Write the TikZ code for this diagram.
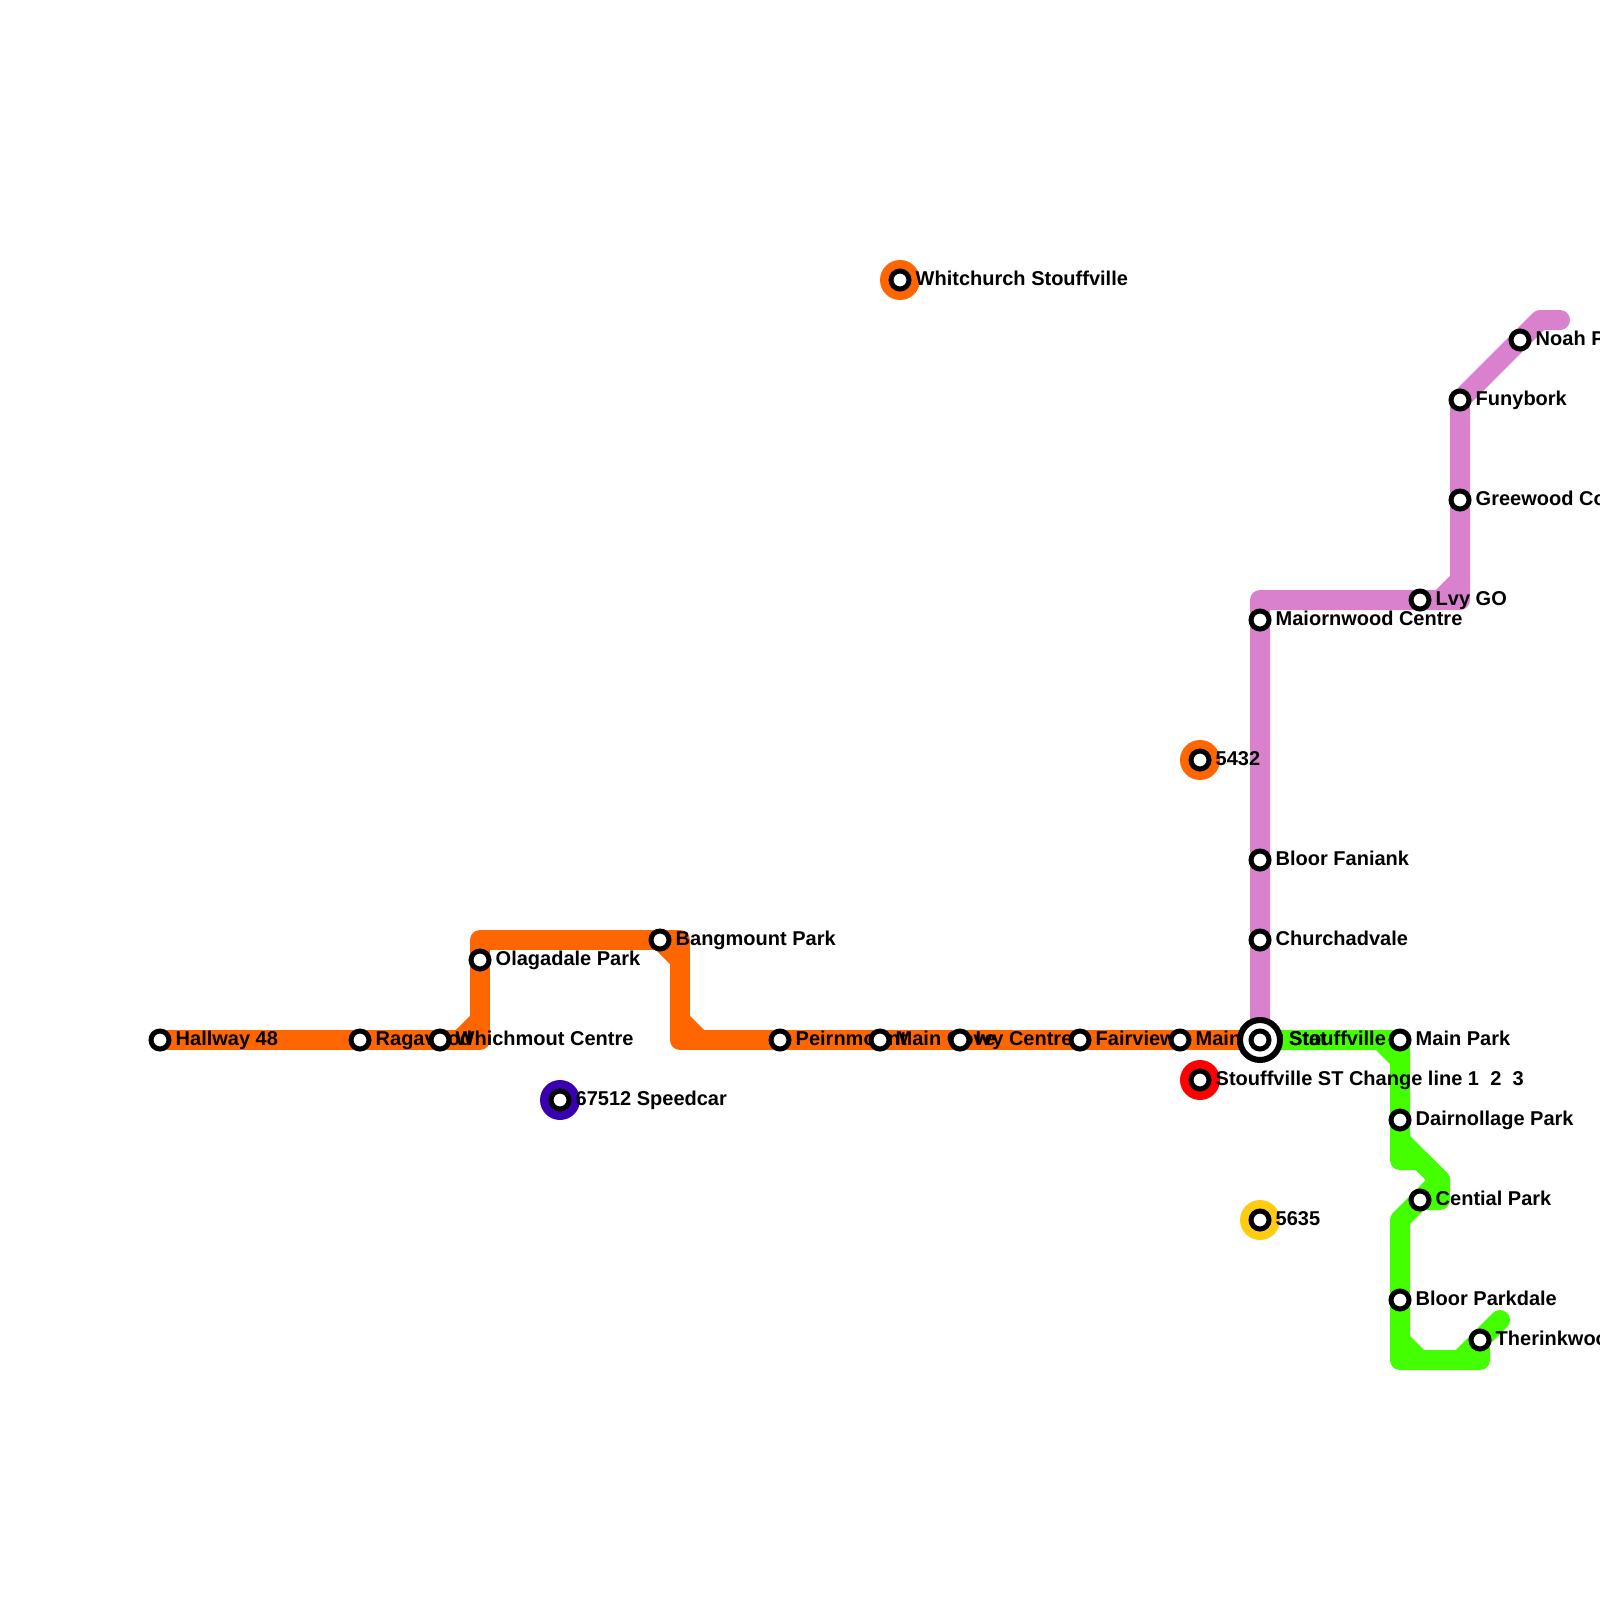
\documentclass[tikz,border=0pt]{standalone}
\usepackage{fontspec}
\setmainfont{Liberation Sans}
\definecolor{orangeline}{HTML}{FF6600}
\definecolor{purpleline}{HTML}{DA81CE}
\definecolor{greenline}{HTML}{44FF00}
\definecolor{blueline}{HTML}{3A00B0}
\definecolor{redline}{HTML}{FF0000}
\definecolor{yellowline}{HTML}{FFCC11}
\pgfdeclarelayer{lines}
\pgfsetlayers{lines,main}
\tikzset{
  stn/.style={circle,draw=black,fill=white,line width=5pt,minimum size=18pt,inner sep=0pt},
  lbl/.style={anchor=base west,inner sep=0pt,font=\fontsize{20}{22}\selectfont\bfseries},
  rail/.style={line width=20pt,line join=round,line cap=round},
  halo/.style={circle,inner sep=0pt,minimum size=40pt},
  pt/.style={inner sep=0pt,minimum size=0pt}
}
\newcommand{\stlabel}[4]{\node[lbl] (#1) at (#2+15.5,#3+5) {#4};}
\begin{document}
\begin{tikzpicture}[x=1pt,y=-1pt]
\useasboundingbox (0,0) rectangle (1600,1600);
% labels (under the station rings)
\stlabel{la}{160}{1040}{Hallway 48}
\stlabel{lb}{360}{1040}{Ragavood}
\stlabel{lc}{440}{1040}{Whichmout Centre}
\stlabel{ld}{480}{960}{Olagadale Park}
\stlabel{le}{660}{940}{Bangmount Park}
\stlabel{lf}{780}{1040}{Peirnmount}
\stlabel{lg}{880}{1040}{Main Cove}
\stlabel{lh}{960}{1040}{Ivy Centre}
\stlabel{li}{1080}{1040}{Fairview}
\stlabel{lj}{1180}{1040}{Main Mor Stat}
\node[lbl] (lk) at (1289,1045) {Stouffville};
\stlabel{ll}{1400}{1040}{Main Park}
\stlabel{lm}{1400}{1120}{Dairnollage Park}
\stlabel{ln}{1420}{1200}{Cential Park}
\stlabel{lo}{1400}{1300}{Bloor Parkdale}
\stlabel{lp}{1480}{1340}{Therinkwood}
\stlabel{lq}{1520}{340}{Noah Park}
\stlabel{lr}{1460}{400}{Funybork}
\stlabel{ls}{1460}{500}{Greewood Corner}
\stlabel{lt}{1420}{600}{Lvy GO}
\stlabel{lu}{1260}{620}{Maiornwood Centre}
\stlabel{lv}{1260}{860}{Bloor Faniank}
\stlabel{lw}{1260}{940}{Churchadvale}
\stlabel{lx}{900}{280}{Whitchurch Stouffville}
\stlabel{ly}{1200}{760}{5432}
\stlabel{lz}{1200}{1080}{Stouffville ST Change line 1\hspace{0.28em}\ 2\hspace{0.28em}\ 3}
\stlabel{lA}{1260}{1220}{5635}
\stlabel{lB}{560}{1100}{67512 Speedcar}
% stations
\node[stn] (a) at (160,1040) {};
\node[stn] (b) at (360,1040) {};
\node[stn] (c) at (440,1040) {};
\node[stn] (d) at (480,960) {};
\node[stn] (e) at (660,940) {};
\node[stn] (f) at (780,1040) {};
\node[stn] (g) at (880,1040) {};
\node[stn] (h) at (960,1040) {};
\node[stn] (i) at (1080,1040) {};
\node[stn] (j) at (1180,1040) {};
\node[circle,draw=black,fill=white,line width=6pt,minimum size=40pt,inner sep=0pt] (kring) at (1260,1040) {};
\node[stn] (k) at (1260,1040) {};
\node[stn] (l) at (1400,1040) {};
\node[stn] (m) at (1400,1120) {};
\node[stn] (n) at (1420,1200) {};
\node[stn] (o) at (1400,1300) {};
\node[stn] (p) at (1480,1340) {};
\node[stn] (q) at (1520,340) {};
\node[stn] (r) at (1460,400) {};
\node[stn] (s) at (1460,500) {};
\node[stn] (t) at (1420,600) {};
\node[stn] (u) at (1260,620) {};
\node[stn] (v) at (1260,860) {};
\node[stn] (w) at (1260,940) {};
\node[stn] (x) at (900,280) {};
\node[stn] (y) at (1200,760) {};
\node[stn] (z) at (1200,1080) {};
\node[stn] (A) at (1260,1220) {};
\node[stn] (B) at (560,1100) {};
% bend points
\coordinate (o1) at (480,1040); \coordinate (o2) at (480,940); \coordinate (o3) at (680,940);
\coordinate (o4) at (680,1040); \coordinate (o5) at (460,1040); \coordinate (o6) at (480,1020);
\coordinate (o7) at (680,960); \coordinate (o8) at (680,1020); \coordinate (o9) at (700,1040);
\coordinate (p1) at (1260,600); \coordinate (p2) at (1460,600); \coordinate (p3) at (1540,320);
\coordinate (p4) at (1560,320); \coordinate (p5) at (1440,600); \coordinate (p6) at (1460,580);
\coordinate (g1) at (1380,1040); \coordinate (g2) at (1400,1060); \coordinate (g3) at (1400,1140);
\coordinate (g4) at (1400,1160); \coordinate (g5) at (1420,1160); \coordinate (g6) at (1440,1180);
\coordinate (g7) at (1440,1200); \coordinate (g8) at (1400,1220); \coordinate (g9) at (1400,1360);
\coordinate (g10) at (1480,1360); \coordinate (g11) at (1500,1320); \coordinate (g12) at (1400,1340);
\coordinate (g13) at (1420,1360); \coordinate (g14) at (1460,1360);
\begin{pgfonlayer}{lines}
\node[halo,fill=orangeline] (hx) at (x.center) {};
\node[halo,fill=orangeline] (hy) at (y.center) {};
\node[halo,fill=redline] (hz) at (z.center) {};
\node[halo,fill=yellowline] (hA) at (A.center) {};
\node[halo,fill=blueline] (hB) at (B.center) {};
\draw[rail,purpleline] (k.center) -- (p1) -- (p2) -- (r.center) -- (p3) -- (p4);
\draw[rail,purpleline] (p5) -- (p6);
\draw[rail,orangeline] (a.center) -- (o1) -- (o2) -- (o3) -- (o4) -- (k.center);
\draw[rail,orangeline] (o5) -- (o6);
\draw[rail,orangeline] (e.center) -- (o7);
\draw[rail,orangeline] (o8) -- (o9);
\draw[rail,greenline] (k.center) -- (l.center) -- (g4) -- (g5) -- (g6) -- (g7) -- (n.center) -- (g8) -- (g9) -- (g10) -- (p.center) -- (g11);
\draw[rail,greenline] (g1) -- (g2);
\draw[rail,greenline] (g3) -- (g6);
\draw[rail,greenline] (g6) -- (n.center);
\draw[rail,greenline] (g12) -- (g13);
\draw[rail,greenline] (g14) -- (p.center);
\end{pgfonlayer}
\end{tikzpicture}
\end{document}
